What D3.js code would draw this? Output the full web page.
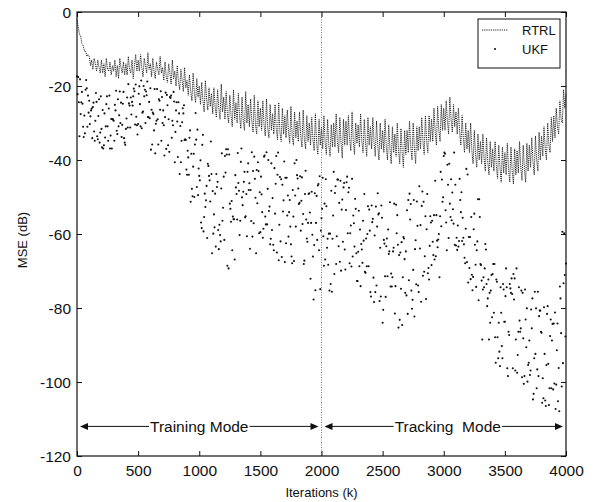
<!DOCTYPE html>
<html><head><meta charset="utf-8">
<script src="https://cdn.jsdelivr.net/npm/d3@7"></script>
<style>body{margin:0;background:#fff} svg{font-family:"Liberation Sans",Arial,Helvetica,sans-serif}</style>
</head><body><svg id="c" width="595" height="502"></svg>
<script>
const xTicks=[0,500,1000,1500,2000,2500,3000,3500,4000];
const yTicks=[0,-20,-40,-60,-80,-100,-120];
const xLabel="Iterations (k)";
const yLabel="MSE (dB)";
const legendLabels=["RTRL","UKF"];
const modeLabels=["Training Mode","Tracking  Mode"];
const modeSpans=[[0,2000],[2000,4000]];
const modeLevel=-112;
const switchAt=2000;
const rtrlStep=10;
const rtrlValues=[
-2,-4,-6,-6.5,-8.5,-9,-10.5,-10.5,-12,-11.5,
-12,-14.5,-13,-15.5,-12.5,-14,-16,-13,-15,-16.5,
-13,-16.5,-14,-17.5,-12.5,-15.5,-16,-13.5,-17,-14.5,
-16,-13,-17.5,-14.5,-18,-12.5,-15,-16.5,-13.5,-17,
-14,-17,-12,-15.5,-16.5,-13,-18,-14.5,-11.5,-16,
-13,-16,-11.5,-15,-17.5,-12.5,-14.5,-16.5,-11,-15.5,
-14,-17.5,-12.5,-16,-18,-13.5,-15.5,-17,-12,-16.5,
-15,-18.5,-13.5,-17.5,-19,-14,-16.5,-19.5,-13,-18,
-16,-20,-14.5,-19,-21,-15.5,-18.5,-21.5,-15,-20.5,
-18.5,-22.5,-17,-21.5,-24,-16.5,-22,-24.5,-18,-23,
-20,-25,-19,-24,-27,-18.5,-23.5,-26.5,-20.5,-25.5,
-22,-27.5,-20.5,-25.5,-28.5,-21,-26,-29,-19.5,-27,
-23,-29,-21.5,-27.5,-30,-22.5,-28,-31,-21,-29,
-24.5,-30,-22,-28.5,-31.5,-23,-29.5,-32,-21.5,-30,
-25,-31,-23.5,-29.5,-32.5,-22.5,-30.5,-33,-24,-31,
-26,-32,-24,-30.5,-33.5,-23.5,-31.5,-34,-25,-32,
-27.5,-33,-25,-31.5,-34.5,-24.5,-32.5,-35,-26,-33,
-28,-34,-26.5,-32.5,-35.5,-25.5,-33.5,-36,-27,-34,
-29.5,-35,-27,-33.5,-36.5,-26.5,-34.5,-37,-28,-35,
-30,-36,-28.5,-34.5,-37.5,-27.5,-35.5,-38.5,-29,-36,
-31,-37,-28,-35.5,-38.5,-29,-36,-39,-30.5,-36.5,
-30,-36.5,-27.5,-35,-38,-28.5,-35.5,-39.5,-29,-36,
-29.5,-36,-28,-34.5,-37.5,-27,-35,-38.5,-30,-35.5,
-30.5,-36.5,-27.5,-35,-38,-29,-35.5,-39,-28.5,-36,
-31,-37,-28.5,-35.5,-39,-29.5,-36,-40,-30,-37,
-32,-38,-29,-36.5,-40,-30.5,-37,-41,-31,-38,
-33,-39,-30,-37.5,-41,-31.5,-38,-42,-32,-38.5,
-32,-38,-29.5,-36.5,-40,-30,-37,-41,-31,-37.5,
-31,-37,-28.5,-35,-38.5,-28,-35,-38,-28,-35,
-29,-35,-26,-32.5,-36,-25.5,-32,-35,-25,-32,
-26,-32,-24,-29.5,-33,-23,-29,-32.5,-25,-31,
-27,-33,-26,-32.5,-36,-28,-34,-38,-30,-37,
-32,-38,-30,-37.5,-41,-32,-38.5,-42,-33,-40,
-35,-41,-33,-39.5,-43,-34,-40.5,-44,-35,-42,
-37,-43,-35,-41.5,-45,-36,-42,-46,-36.5,-43.5,
-38,-44,-35.5,-42.5,-46,-36.5,-43,-46.5,-37,-44,
-37.5,-43.5,-35,-42,-45.5,-36,-42.5,-46,-35.5,-43,
-36,-42,-34,-40.5,-44,-33.5,-40,-43,-32.5,-40,
-33.5,-39,-31,-37,-40,-30,-36,-38,-28.5,-35,
-28,-34,-26,-31,-33,-24,-29,-30,-21,-26,
-22];
const ukfStep=5;
const ukfValues=[
-17.4,-22.2,-17.6,-24.4,-33.6,-18.2,-27.6,-24.4,-21.6,-24.8,-31,-33.8,-28,-32.8,-21,-18.4,-20.6,-31,-22.6,-27.2,
-24,-30.3,-28.2,-26.6,-26.1,-34.1,-25.7,-24.5,-32.3,-34.8,-29.4,-21.9,-24.3,-33.6,-34.4,-28.1,-23.6,-35.3,-32.6,-22.8,
-31.6,-36.6,-26.5,-36.9,-36,-27.4,-33.9,-30.9,-24.9,-22.8,-30.9,-34.8,-26.1,-22.6,-36.9,-33.4,-28.9,-36.9,-28.9,-29.1,
-29.4,-34.8,-25.1,-26.6,-21.3,-32.1,-33,-23.6,-30.9,-27.9,-21.5,-30,-24.5,-33.8,-30.5,-24.8,-21.6,-34.1,-35.3,-35.9,
-31.6,-28.8,-23.1,-31.2,-19.5,-24.7,-25.3,-31.2,-23.1,-27.7,-24.3,-25.3,-22.8,-20.7,-21.4,-30.4,-19.6,-28.3,-30.6,-33.1,
-30.3,-22.1,-20.1,-24.9,-30.9,-18.5,-31.4,-27.2,-26.9,-20,-22.8,-21,-30,-21.5,-22.5,-18.8,-28.4,-28.4,-24.3,-28.7,
-20.6,-37.2,-26.4,-35.8,-27.2,-27.6,-32,-20.8,-38.2,-30.2,-29.4,-20.8,-29,-35.8,-23.6,-24,-26.4,-21.4,-34.8,-23,
-30,-26.6,-30.6,-38.8,-28.4,-21.8,-37,-22.4,-25.2,-36,-29,-37.8,-23,-23.2,-22.6,-34,-29.4,-30.6,-21.6,-24.2,
-40.6,-32.4,-26.6,-24.4,-29.6,-39.2,-24.4,-27.4,-43.8,-30.8,-40.6,-34.8,-29.8,-26,-27.4,-25.2,-34.6,-34.4,-34.6,-42.6,
-44,-37.5,-39.3,-44,-34,-32,-51.3,-38.3,-47.8,-49.8,-41.8,-38.3,-50,-35.8,-27.3,-34.5,-47.3,-31.8,-49.5,-42.3,
-44.3,-45.5,-40.1,-56.9,-58.4,-35.9,-33.2,-59.3,-55.4,-49.1,-52.7,-50.9,-47,-61.1,-41,-41.6,-44.3,-45.5,-51.2,-35,
-43.8,-65.2,-48.4,-59.9,-54.7,-58.2,-49.1,-63.4,-43.8,-47.3,-45.9,-58.9,-64.1,-57.5,-60.3,-62,-47.7,-38.2,-56.4,-52.9,
-44.5,-61.6,-38.9,-43.4,-37.1,-38.5,-68.6,-37.1,-69.3,-38.5,-51.8,-53.2,-56.7,-51.1,-64.4,-55.3,-56,-56,-66.9,-44.1,
-47.4,-49.2,-56.1,-38.1,-46.2,-48.3,-60.3,-56.4,-40.5,-36.9,-50.1,-52.2,-48.6,-45.9,-43.2,-55.5,-55.2,-49.2,-60.6,-43.2,
-40.9,-48.1,-46.3,-64,-48.1,-56.5,-37.9,-60.7,-43,-57.1,-39.1,-45.1,-50.2,-65.2,-42.7,-51.7,-40.6,-43,-59.8,-48.7,
-59.5,-44.5,-49.3,-54.1,-61,-58.6,-39.1,-38.8,-55.3,-57.4,-37.9,-57.4,-47.8,-40,-53.8,-52.6,-62.8,-61.3,-40.9,-58.9,
-50.3,-62.9,-64.4,-42.2,-54.5,-46.4,-38.9,-65,-44,-38,-67.1,-57.5,-44.6,-62,-45.2,-66.2,-46.7,-53.9,-50.9,-40.4,
-67.6,-44.8,-62.5,-44.8,-55,-49.6,-60.7,-54.1,-50.8,-58,-62.8,-66.1,-67.9,-48.1,-55.3,-67.3,-40.9,-49.6,-58,-40,
-44.1,-45,-47.7,-51.9,-51.6,-44.4,-59.1,-51,-44.7,-57.3,-54.6,-68.1,-67.2,-49.2,-42.9,-56.1,-61.2,-62.1,-57,-49.2,
-49,-54.2,-72.1,-57,-48.6,-60.2,-66.1,-77.7,-63,-49,-75.2,-57,-49.7,-61.6,-46.9,-46.5,-64.4,-44.4,-74.9,-59.1,
-55.7,-53.2,-44.8,-60.6,-68.6,-51.8,-66.9,-45.2,-52.5,-63.7,-61.3,-68.3,-59.9,-75.3,-59.9,-73.5,-48.3,-75.6,-61.3,-55,
-43.2,-70.8,-48.9,-47.1,-68.1,-60.6,-45.3,-45.3,-63.3,-51.6,-67.5,-45.6,-69.9,-53.4,-50.7,-62.1,-47.4,-46.2,-64.2,-69.6,
-53.5,-46,-44.5,-59.8,-48.7,-47.5,-67.9,-59.8,-57.7,-68.8,-45.1,-66.1,-55,-57.1,-63.4,-50.5,-53.2,-65.2,-72.7,-72.7,
-64.8,-53.7,-68.7,-58.8,-74.1,-62.7,-64.2,-67.8,-56.4,-61.8,-49.2,-70.2,-70.5,-61.2,-68.7,-60,-52.5,-68.7,-53.4,-59.1,
-75.7,-76.9,-52.3,-56.8,-55.9,-71.8,-78.4,-60.4,-75.7,-52.6,-73.9,-58,-49,-54.7,-54.4,-78.1,-63.7,-76.9,-52.3,-55.6,
-84,-80.5,-61.6,-62.6,-71.4,-77,-63.3,-61.2,-71.4,-58.8,-65.4,-64.7,-51.4,-74.2,-70.7,-74.2,-71.7,-64.7,-63.7,-51.8,
-81.5,-74.1,-52.1,-59.8,-54.9,-62.9,-85.3,-65.7,-83.2,-65,-74.8,-62.2,-84.6,-71.7,-60.8,-61.2,-66.8,-75.9,-64.7,-76.6,
-53.6,-81.6,-50.8,-72.5,-49.1,-56.1,-51.9,-75.3,-80.2,-77.8,-69.7,-50.8,-82.3,-64.1,-61.7,-73.6,-51.2,-57.8,-73.9,-75.7,
-47.1,-63.9,-57.6,-78.3,-52.4,-48.5,-71.3,-51.3,-70.2,-66,-55.2,-77.6,-58.7,-49.2,-70.6,-69.2,-72.3,-63.2,-55.2,-56.9,
-68.4,-56.4,-62.1,-65.7,-54.9,-66.9,-45.6,-66,-54.9,-61.8,-63.6,-61.5,-60,-71.7,-55.2,-43.2,-57.9,-45.3,-51.3,-50.1,
-38.9,-38,-38.3,-53.6,-56.9,-64.4,-41.3,-46.7,-61.1,-41,-51.8,-55.4,-45.2,-56.3,-48.8,-53.3,-57.2,-38,-62.9,-46.7,
-63.1,-61,-64.3,-57.7,-63.4,-61.9,-45.1,-50.8,-54.1,-48.7,-61.9,-55.6,-61,-62.8,-66.4,-67.9,-58.6,-42.4,-67.6,-43.9,
-73.1,-60.8,-69.2,-60.8,-72.2,-55.4,-71,-75.2,-71.6,-58.7,-54.5,-62.9,-68.3,-74.3,-64.4,-62,-50.6,-77.9,-50.6,-55.4,
-68.1,-68.4,-72.6,-88.5,-75,-71.7,-74.4,-69.3,-62.7,-64.2,-73.5,-79.5,-77.4,-72.3,-88.5,-75.9,-84,-75.3,-71.1,-82.5,
-70.8,-68.1,-81.3,-68.1,-87.9,-94.8,-72.3,-72.9,-87.9,-93.6,-84,-91.8,-95.7,-74.4,-81.3,-90.3,-93.6,-73.5,-75,-83.7,
-83.7,-76.8,-69.3,-74.4,-96.3,-98.4,-86.4,-87.3,-73.5,-74.7,-75.9,-72,-76.2,-96.3,-70.8,-77.7,-72,-96.9,-88.5,-69.3,
-97.5,-92.7,-86.4,-74.4,-83.4,-86.4,-85.5,-75.3,-98.7,-75.9,-88.2,-100.5,-98.4,-75,-83.1,-90.6,-80.1,-99.9,-95.4,-94.8,
-88.8,-98.1,-96.9,-80.4,-85.5,-77.4,-104.7,-103.2,-93.6,-75.6,-92.4,-80.1,-101.7,-96.6,-75.6,-98.4,-82.2,-80.7,-80.7,-86.4,
-86.7,-105.6,-99,-104.4,-79.8,-92.4,-105,-106.5,-95.4,-81.6,-79.5,-95.1,-106.2,-101.7,-87.6,-83.1,-101.7,-88.8,-84.3,-102,
-84.2,-100.4,-81.2,-107.3,-100.7,-91.4,-84.2,-105.2,-96.2,-107.9,-74.2,-77.4,-86.8,-101.2,-59.4,-94.9,-73.3,-59.8,-71.1,-87.7,
-68];

const svg=d3.select("#c");
const L=77,R=566,T=12,B=456;
const x=d3.scaleLinear().domain([0,4000]).range([L,R]);
const y=d3.scaleLinear().domain([-120,0]).range([B,T]);
const ink="#111";

// UKF points
const ukf=ukfValues.map((v,i)=>[i*ukfStep,v]);
svg.append("g").selectAll("circle").data(ukf).join("circle")
  .attr("cx",d=>x(d[0])).attr("cy",d=>y(d[1])).attr("r",1.05).attr("fill","#111");

// RTRL dotted line
const rtrl=rtrlValues.map((v,i)=>[i*rtrlStep,v]);
svg.append("path").datum(rtrl)
  .attr("d",d3.line().x(d=>x(d[0])).y(d=>y(d[1])))
  .attr("fill","none").attr("stroke","#111").attr("stroke-width",0.95)
  .attr("stroke-dasharray","1,0.9");

// switch line
svg.append("line").attr("x1",x(switchAt)).attr("x2",x(switchAt)).attr("y1",T).attr("y2",B)
  .attr("stroke","#555").attr("stroke-width",0.8).attr("stroke-dasharray","1,1.5");

// axes
const gx=svg.append("g").attr("transform",`translate(0,${B})`)
  .call(d3.axisBottom(x).tickValues(xTicks).tickSizeInner(-5).tickSizeOuter(0).tickPadding(9).tickFormat(d3.format("d")));
const gxt=svg.append("g").attr("transform",`translate(0,${T})`)
  .call(d3.axisTop(x).tickValues(xTicks).tickSizeInner(-5).tickSizeOuter(0).tickFormat(""));
const gy=svg.append("g").attr("transform",`translate(${L},0)`)
  .call(d3.axisLeft(y).tickValues(yTicks).tickSizeInner(-5).tickSizeOuter(0).tickPadding(6).tickFormat(d=>d===0?"0":d3.format("d")(d).replace("−","-")));
const gyr=svg.append("g").attr("transform",`translate(${R},0)`)
  .call(d3.axisRight(y).tickValues(yTicks).tickSizeInner(-5).tickSizeOuter(0).tickFormat(""));
[gx,gxt,gy,gyr].forEach(g=>{g.select(".domain").remove();g.selectAll("line").attr("stroke",ink);
  g.selectAll("text").attr("font-size",15.5).attr("fill",ink).attr("font-family",null);});
gy.selectAll("text").attr("dy","0.35em");

svg.append("rect").attr("x",L).attr("y",T).attr("width",R-L).attr("height",B-T)
  .attr("fill","none").attr("stroke",ink).attr("stroke-width",1.2);

// axis labels
svg.append("text").attr("x",(L+R)/2).attr("y",497).attr("text-anchor","middle")
  .attr("font-size",13).attr("fill",ink).text(xLabel);
svg.append("text").attr("transform",`translate(27,240) rotate(-90)`).attr("text-anchor","middle")
  .attr("font-size",13).attr("fill",ink).text(yLabel);

// mode arrows
const ay=y(modeLevel);
modeSpans.forEach((s,i)=>{
  const x0=x(s[0])+3,x1=x(s[1])-3,cx=(x(s[0])+x(s[1]))/2+(i===1?4:0);
  const t=svg.append("text").attr("x",cx).attr("y",ay+5.5).attr("text-anchor","middle")
    .attr("font-size",15.5).attr("fill",ink).style("white-space","pre").text(modeLabels[i]);
  const w=t.node().getComputedTextLength();
  svg.append("line").attr("x1",x0+6).attr("x2",cx-w/2-1).attr("y1",ay).attr("y2",ay).attr("stroke",ink).attr("stroke-width",1);
  svg.append("line").attr("x1",cx+w/2+1).attr("x2",x1-6).attr("y1",ay).attr("y2",ay).attr("stroke",ink).attr("stroke-width",1);
  svg.append("path").attr("d",`M${x0},${ay}L${x0+8},${ay-3.5}L${x0+8},${ay+3.5}Z`).attr("fill",ink);
  svg.append("path").attr("d",`M${x1},${ay}L${x1-8},${ay-3.5}L${x1-8},${ay+3.5}Z`).attr("fill",ink);
});

// legend
const lg=svg.append("g");
lg.append("rect").attr("x",478).attr("y",19).attr("width",82).attr("height",49)
  .attr("fill","#fff").attr("stroke",ink).attr("stroke-width",1);
lg.append("line").attr("x1",482).attr("x2",508).attr("y1",30).attr("y2",30)
  .attr("stroke","#222").attr("stroke-width",1).attr("stroke-dasharray","1.2,1");
lg.append("circle").attr("cx",495).attr("cy",49).attr("r",1.05).attr("fill","#111");
legendLabels.forEach((l,i)=>lg.append("text").attr("x",522).attr("y",34.5+i*19)
  .attr("font-size",13).attr("fill",ink).text(l));
</script></body></html>
